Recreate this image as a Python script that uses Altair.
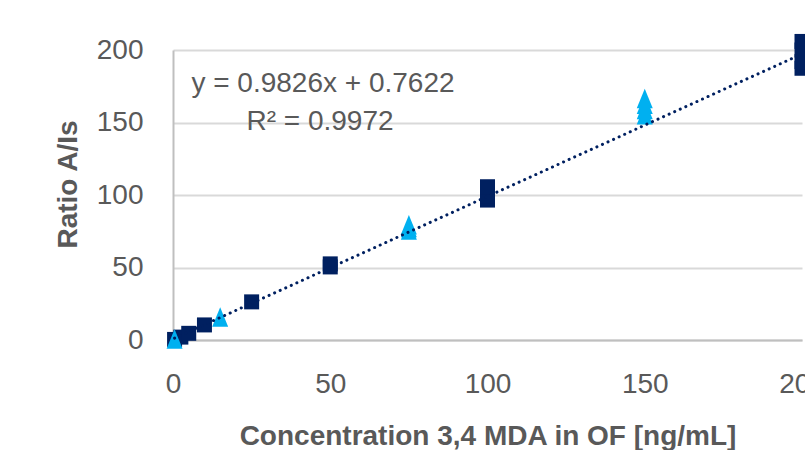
import altair as alt
import pandas as pd

# Calibration points (dark navy squares)
sq_x = [0.5, 2.5, 5, 10, 25, 50, 50, 100, 100, 100, 100, 200, 200, 200, 200]
sq_y = [0.4, 2.0, 4.6, 10.4, 26.3, 50.4, 52.5, 96.5, 99.5, 102.5, 105.7, 187.4, 192.0, 200.0, 205.9]
# QC points (light blue triangles)
tri_x = [0.5, 15, 75, 75, 75, 150, 150, 150, 150]
tri_y = [0.7, 15.9, 75.8, 77.5, 79.4, 155.4, 159.0, 162.5, 166.5]
# Linear trendline
slope = 0.9826
intercept = 0.7622
trend_x = [0.5, 200]
eq_text = ["y = 0.9826x + 0.7622", "R² = 0.9972"]

FONT = "Liberation Sans"
GREY = "#595959"
NAVY = "#002060"
LIGHT = "#00B0F0"

sq_df = pd.DataFrame({"x": sq_x, "y": sq_y})
tri_df = pd.DataFrame({"x": tri_x, "y": tri_y})
trend_df = pd.DataFrame({"x": trend_x})

xscale = alt.Scale(domain=[0, 200], nice=False, zero=True)
yscale = alt.Scale(domain=[0, 200], nice=False, zero=True)

xaxis = alt.Axis(
    values=[0, 50, 100, 150, 200], title="Concentration 3,4 MDA in OF [ng/mL]",
    grid=False, ticks=False, tickSize=0, domainColor="#BFBFBF", domainWidth=2,
    labelFont=FONT, labelFontSize=28, labelColor=GREY, labelPadding=30,
    labelFlush=False, labelOverlap=False,
    titleFont=FONT, titleFontSize=28, titleFontWeight="bold", titleColor=GREY,
    titleBaseline="alphabetic", titleY=104,
)
yaxis = alt.Axis(
    values=[0, 50, 100, 150, 200], title="Ratio A/Is",
    grid=True, gridColor="#D9D9D9", gridWidth=2, ticks=False, tickSize=0,
    domainColor="#BFBFBF", domainWidth=2,
    labelFont=FONT, labelFontSize=28, labelColor=GREY, labelPadding=30,
    labelFlush=False, labelOverlap=False, labelBaseline="middle",
    titleFont=FONT, titleFontSize=28, titleFontWeight="bold", titleColor=GREY,
    titleAngle=-90, titleAlign="center", titleBaseline="middle",
    titleX=-105, titleY=134,
)

squares = alt.Chart(sq_df).mark_point(
    shape="square", filled=True, size=225, color=NAVY, opacity=1
).encode(
    x=alt.X("x:Q", scale=xscale, axis=xaxis),
    y=alt.Y("y:Q", scale=yscale, axis=yaxis),
)

triangles = alt.Chart(tri_df).mark_point(
    shape="M-0.82,1L0.82,1L0,-1Z", filled=True, size=380, color=LIGHT, opacity=1
).encode(
    x=alt.X("x:Q", scale=xscale),
    y=alt.Y("y:Q", scale=yscale),
)

trend = alt.Chart(trend_df).transform_calculate(
    y=f"{slope} * datum.x + {intercept}"
).mark_line(
    color=NAVY, strokeWidth=3, strokeCap="round", strokeDash=[0.1, 6]
).encode(
    x=alt.X("x:Q", scale=xscale),
    y=alt.Y("y:Q", scale=yscale),
)

eq1 = alt.Chart(pd.DataFrame({"t": [eq_text[0]]})).mark_text(
    font=FONT, fontSize=28, color=GREY, align="center", baseline="alphabetic"
).encode(text="t:N", x=alt.value(150), y=alt.value(42))

eq2 = alt.Chart(pd.DataFrame({"t": [eq_text[1]]})).mark_text(
    font=FONT, fontSize=28, color=GREY, align="center", baseline="alphabetic"
).encode(text="t:N", x=alt.value(147), y=alt.value(80))

chart = alt.layer(squares, triangles, trend, eq1, eq2).properties(
    width=629, height=290,
    autosize=alt.AutoSizeParams(type="none"),
    padding={"left": 173, "top": 50, "right": 3, "bottom": 110},
    background="white",
).configure_view(stroke=None)

chart.save("out.html", embed_options={"renderer": "svg", "actions": False})
